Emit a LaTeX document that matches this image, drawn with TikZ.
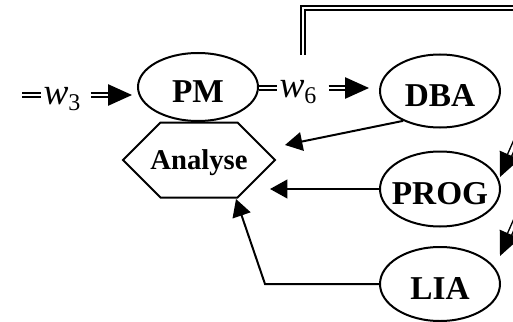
\documentclass[tikz,border=0pt]{standalone}
\usepackage{fontspec}
\setmainfont{Liberation Serif}
\usetikzlibrary{arrows.meta,shapes.geometric,shapes.symbols}

% zero-width box so that the shape size comes only from minimum width/height
\newcommand\ctrtext[1]{\makebox[0pt]{#1}}
% italic flow name with a lowered index
\newcommand\flowname[2]{{\fontsize{28}{30}\selectfont\itshape #1}\raisebox{-4.5pt}{\fontsize{18}{18}\selectfont #2}}

\begin{document}
\begin{tikzpicture}[x=0.75pt, y=-0.75pt,
  role/.style={ellipse, draw, line width=1.5pt, inner sep=0pt,
    font=\fontsize{25}{30}\selectfont\bfseries, text height=22.5pt, text depth=0pt},
  task/.style={signal, signal to=east and west, signal pointer angle=90,
    draw, line width=1.5pt, inner sep=0pt,
    minimum width=114pt, minimum height=56.25pt,
    font=\fontsize{21.5}{26}\selectfont\bfseries, text height=14.2pt, text depth=0pt},
  flowlabel/.style={inner sep=1.5pt, text height=13.5pt, text depth=0pt},
  dbl/.style={double, double distance=2.2pt, line width=1.1pt},
  dblarrow/.style={dbl, -{Triangle[length=18pt,width=16pt]}},
  arr/.style={line width=1.5pt, -{Triangle[length=13pt,width=14pt]}},
]
\clip (0,0) rectangle (513,321);

% activities
\node[role, minimum width=90pt, minimum height=51pt] (PM) at (198,87) {\ctrtext{PM}};
\node[role, minimum width=90pt, minimum height=54.75pt] (DBA) at (440,91) {\ctrtext{DBA}};
\node[role, minimum width=90pt, minimum height=56.25pt] (PROG) at (440,189) {\ctrtext{PROG}};
\node[role, minimum width=90pt, minimum height=55.5pt] (LIA) at (440,284) {\ctrtext{LIA}};
\node[task] (AN) at (199,160) {\ctrtext{Analyse}};

% labelled work-product flows
\node[flowlabel] (w3) at (62,95) {\flowname{w}{3}};
\node[flowlabel] (w6) at (298,88) {\flowname{w}{6}};

\coordinate (in3) at (22,95);
\draw[dbl] (in3) -- (w3.west);
\draw[dblarrow, shorten <=6pt, shorten >=3.75pt] (w3.east) -- (w3.east -| PM.west);

\draw[dbl] (PM.east |- w6.west) -- (w6.west);
\draw[dblarrow, shorten <=7.5pt, shorten >=7.5pt] (w6.east) -- (w6.east -| DBA.west);

% branch leaving the w6 flow towards the right
\coordinate (up) at (303,55);
\coordinate (corner) at (303,8);
\coordinate (far) at (525,8);
\draw[dbl] (up) -- (corner) -- (far);

% flows entering PROG and LIA from the right
\coordinate (pS) at (522,127);
\coordinate (pT) at (500,177);
\coordinate (lS) at (522,206);
\coordinate (lT) at (500,256);
\draw[dblarrow] (pS) -- (pT);
\draw[dblarrow] (lS) -- (lT);

% feedback into the analysis
\coordinate (tipD) at (285,145);
\coordinate (tipP) at (270,189);
\coordinate (bendL) at (265,284);
\coordinate (tipL) at (236,199);
\draw[arr] (DBA.219) -- (tipD);
\draw[arr] (PROG.west) -- (PROG.west -| tipP);
\draw[arr] (LIA.west) -- (bendL) -- (tipL);
\end{tikzpicture}
\end{document}
